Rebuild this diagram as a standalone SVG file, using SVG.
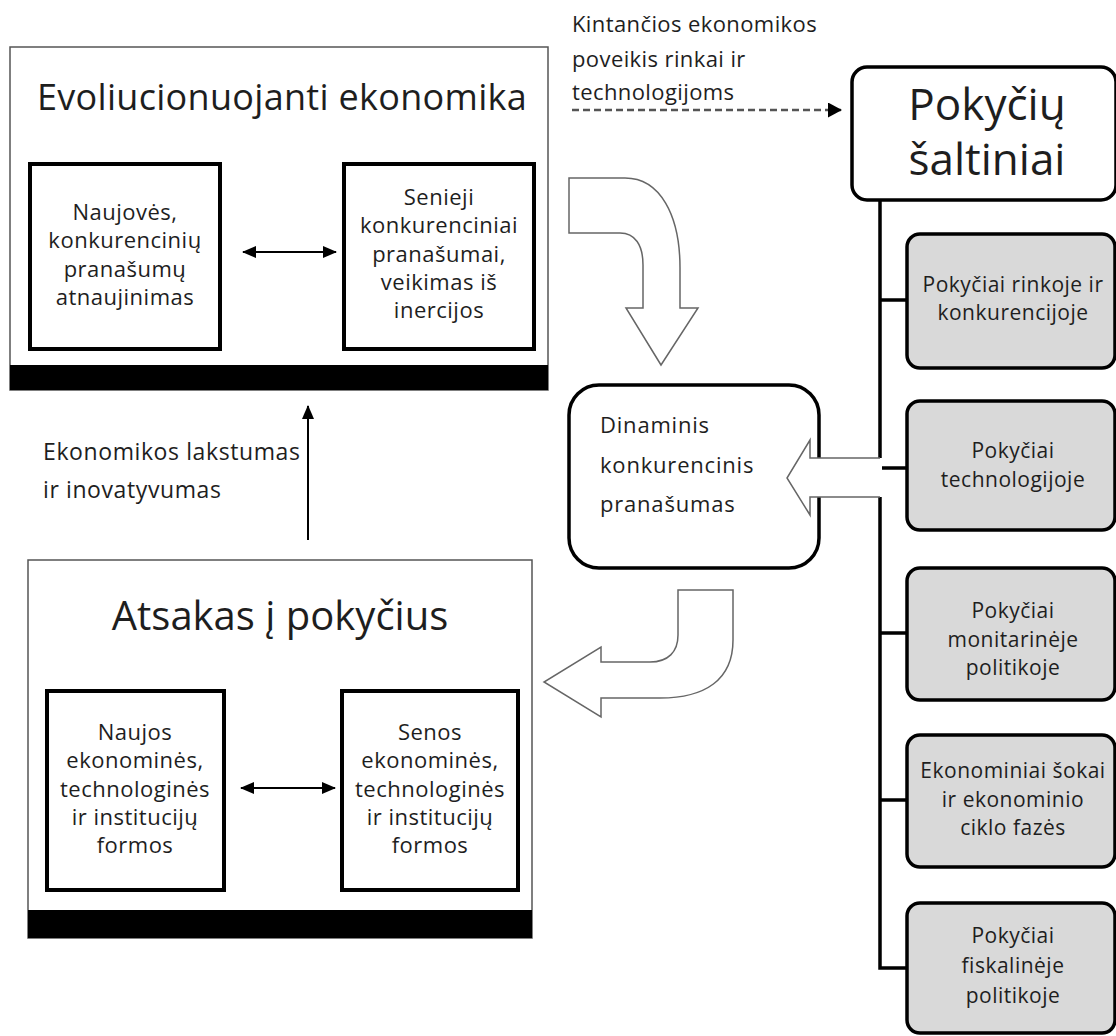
<svg xmlns="http://www.w3.org/2000/svg" width="1116" height="1036" viewBox="0 0 1116 1036">
<defs>
<style>
text{font-family:"Open Sans","Noto Sans",sans-serif;fill:#1e1e1e}
.outer{fill:#fff;stroke:#555;stroke-width:1.5}
.bar{fill:#000}
.inner{fill:#fff;stroke:#000;stroke-width:4}
.gray{fill:#d9d9d9;stroke:#000;stroke-width:3.5}
.round{fill:#fff;stroke:#000;stroke-width:3.5}
.t36{font-size:36px;letter-spacing:0.3px}
.t40{font-size:40px}
.t44{font-size:44px}
.t22{font-size:22px;letter-spacing:0.5px}
.t21{font-size:21px;letter-spacing:0.5px}
.lbl{font-size:23px;letter-spacing:0.6px}
.dyn{font-size:22px;letter-spacing:0.8px}
.top{font-size:22px;letter-spacing:0.4px}
.line{stroke:#000;stroke-width:2;fill:none}
.spine{stroke:#000;stroke-width:3.5;fill:none}
.block{fill:#fff;stroke:#666;stroke-width:1.5}
</style>
<marker id="ah" viewBox="0 0 14 12" refX="13" refY="6" markerUnits="userSpaceOnUse" markerWidth="14" markerHeight="12" orient="auto-start-reverse">
<path d="M0,0 L14,6 L0,12 Z" fill="#000"/>
</marker>
<marker id="ahv" viewBox="0 0 12 14" refX="6" refY="1" markerUnits="userSpaceOnUse" markerWidth="12" markerHeight="14" orient="0">
<path d="M6,0 L12,14 L0,14 Z" fill="#000"/>
</marker>
<marker id="ahd" viewBox="0 0 14 15" refX="13" refY="7.5" markerUnits="userSpaceOnUse" markerWidth="14" markerHeight="15" orient="auto">
<path d="M0,0 L14,7.5 L0,15 Z" fill="#000"/>
</marker>
</defs>

<g id="evoliucionuojanti-ekonomika">
<rect class="outer" x="10" y="47" width="538" height="343"/>
<rect class="bar" x="10" y="365" width="538" height="25"/>
<text class="t36" x="282" y="110" text-anchor="middle">Evoliucionuojanti ekonomika</text>
</g>
<g id="naujoves">
<rect class="inner" x="30" y="164" width="190" height="185"/>
<text class="t22" text-anchor="middle"><tspan x="125" y="220">Naujovės,</tspan><tspan x="125" y="248">konkurencinių</tspan><tspan x="125" y="277">pranašumų</tspan><tspan x="125" y="305">atnaujinimas</tspan></text>
</g>
<g id="senieji">
<rect class="inner" x="344" y="164" width="190" height="185"/>
<text class="t22" text-anchor="middle"><tspan x="439" y="205">Senieji</tspan><tspan x="439" y="233">konkurenciniai</tspan><tspan x="439" y="262">pranašumai,</tspan><tspan x="439" y="290">veikimas iš</tspan><tspan x="439" y="318">inercijos</tspan></text>
</g>

<g id="atsakas-i-pokycius">
<rect class="outer" x="28" y="560" width="504" height="378"/>
<rect class="bar" x="28" y="910" width="504" height="28"/>
<text class="t40" x="280" y="630" text-anchor="middle">Atsakas į pokyčius</text>
</g>
<g id="naujos-formos">
<rect class="inner" x="47" y="691" width="177" height="199"/>
<text class="t22" text-anchor="middle"><tspan x="135" y="740">Naujos</tspan><tspan x="135" y="768">ekonominės,</tspan><tspan x="135" y="797">technologinės</tspan><tspan x="135" y="825">ir institucijų</tspan><tspan x="135" y="853">formos</tspan></text>
</g>
<g id="senos-formos">
<rect class="inner" x="342" y="691" width="176" height="199"/>
<text class="t22" text-anchor="middle"><tspan x="430" y="740">Senos</tspan><tspan x="430" y="768">ekonominės,</tspan><tspan x="430" y="797">technologinės</tspan><tspan x="430" y="825">ir institucijų</tspan><tspan x="430" y="853">formos</tspan></text>
</g>

<g id="dinaminis">
<rect class="round" x="569" y="385" width="250" height="183" rx="30"/>
<text class="dyn"><tspan x="600" y="433">Dinaminis</tspan><tspan x="600" y="473">konkurencinis</tspan><tspan x="600" y="512">pranašumas</tspan></text>
</g>

<g id="pokyciu-saltiniai">
<rect class="round" x="852" y="67" width="264" height="133" rx="15"/>
<text class="t44" text-anchor="middle"><tspan x="987" y="120">Pokyčių</tspan><tspan x="987" y="175">šaltiniai</tspan></text>
</g>
<g id="rinka">
<rect class="gray" x="907" y="234" width="208" height="134" rx="13"/>
<text class="t21" text-anchor="middle"><tspan x="1013" y="292">Pokyčiai rinkoje ir</tspan><tspan x="1013" y="320">konkurencijoje</tspan></text>
</g>
<g id="technologija">
<rect class="gray" x="907" y="401" width="208" height="129" rx="13"/>
<text class="t21" text-anchor="middle"><tspan x="1013" y="458">Pokyčiai</tspan><tspan x="1013" y="487">technologijoje</tspan></text>
</g>
<g id="monitarine">
<rect class="gray" x="907" y="568" width="208" height="132" rx="13"/>
<text class="t21" text-anchor="middle"><tspan x="1013" y="618">Pokyčiai</tspan><tspan x="1013" y="647">monitarinėje</tspan><tspan x="1013" y="675">politikoje</tspan></text>
</g>
<g id="sokai">
<rect class="gray" x="907" y="735" width="208" height="132" rx="13"/>
<text class="t21" text-anchor="middle"><tspan x="1013" y="778">Ekonominiai šokai</tspan><tspan x="1013" y="807">ir ekonominio</tspan><tspan x="1013" y="835">ciklo fazės</tspan></text>
</g>
<g id="fiskaline">
<rect class="gray" x="907" y="903" width="208" height="130" rx="13"/>
<text class="t21" text-anchor="middle"><tspan x="1013" y="943">Pokyčiai</tspan><tspan x="1013" y="973">fiskalinėje</tspan><tspan x="1013" y="1003">politikoje</tspan></text>
</g>

<g id="labels">
<text class="top"><tspan x="572" y="32">Kintančios ekonomikos</tspan><tspan x="572" y="67">poveikis rinkai ir</tspan><tspan x="572" y="100">technologijoms</tspan></text>
<text class="lbl"><tspan x="43" y="460">Ekonomikos lakstumas</tspan><tspan x="43" y="498">ir inovatyvumas</tspan></text>
</g>

<g id="connectors">
<line class="line" x1="243" y1="252" x2="336" y2="252" marker-start="url(#ah)" marker-end="url(#ah)"/>
<line class="line" x1="241" y1="788" x2="335" y2="788" marker-start="url(#ah)" marker-end="url(#ah)"/>
<line x1="308" y1="540" x2="308" y2="406" stroke="#000" stroke-width="2" marker-end="url(#ahv)"/>
<line x1="572" y1="110" x2="841" y2="110" stroke="#555" stroke-width="2.5" stroke-dasharray="7,4" marker-end="url(#ahd)"/>
<path class="spine" d="M880,200 V968 H907 M880,300 H907 M880,468 H907 M880,633 H907 M880,800 H907"/>
<path class="block" d="M569,178 L625,178 C660,178 680,215 680,268 L680,308 L698,308 L661,365 L626,308 L643,308 L643,265 C643,245 635,233 620,233 L569,233 Z"/>
<path class="block" d="M678,590 L733,590 L733,640 C733,680 705,698 660,698 L601,698 L601,717 L544,682 L601,647 L601,662 L650,662 C668,662 678,652 678,635 Z"/>
<path d="M882,458 L810,458 L810,440 L787,478 L810,515 L810,497 L882,497 Z" fill="#fff"/>
<path d="M880,458 L810,458 L810,440 L787,478 L810,515 L810,497 L880,497" fill="none" stroke="#666" stroke-width="1.5"/>
</g>
</svg>
